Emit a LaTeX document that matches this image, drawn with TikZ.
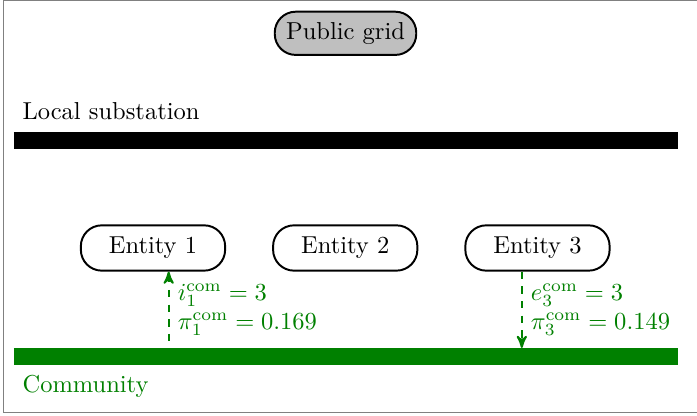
\documentclass[tikz,border=0pt]{standalone}
\usetikzlibrary{arrows,positioning}
\tikzset{entity node/.style={rectangle,rounded corners=3mm,draw,thick,minimum width=2.07cm,minimum height=0.65cm,inner sep=0pt},
         grid node/.style={entity node,fill=black!25,minimum width=2.03cm,minimum height=0.62cm},
         bus/.style={line width=0.24cm},
         flow/.style={dashed,thick,green!50!black},
         flow label/.style={rectangle,align=left,anchor=west,text=green!50!black},
         bus label/.style={anchor=base west}
}
\begin{document}
\begin{tikzpicture}[->,>=stealth']
\useasboundingbox (0,0) rectangle (10,5.968);
\draw[-,gray,line width=0.4pt] (0.043,0.057) rectangle (10.2,5.962);
\node[grid node] (grid) at (4.957,5.49) {Public grid};
% buses
\coordinate (ls west) at (0.2,3.953);
\coordinate (ls east) at (9.72,3.953);
\coordinate (com west) at (0.2,0.856);
\coordinate (com east) at (9.72,0.856);
\coordinate (com top) at (0,0.976);
\draw[-,bus] (ls west) -- (ls east);
\draw[-,bus,green!50!black] (com west) -- (com east);
\node[bus label] (ls label) at (0.2,4.247) {Local substation};
\node[bus label,text=green!50!black] (com label) at (0.2,0.33) {Community};
% entities
\node[entity node] (e1) at (2.195,2.41) {Entity 1};
\node[entity node,right = 0.66cm of e1] (e2) {Entity 2};
\node[entity node,right = 0.66cm of e2] (e3) {Entity 3};
\draw[flow,<-] ([xshift=2.25mm]e1.south) -- ([xshift=2.25mm]e1.south |- com top)
    node[midway,flow label] {$i_1^{\mathrm{com}} = 3$\\$\pi_1^{\mathrm{com}} = 0.169$};
\draw[flow,->] ([xshift=-2.25mm]e3.south) -- ([xshift=-2.25mm]e3.south |- com top)
    node[midway,flow label] {$e_3^{\mathrm{com}} = 3$\\$\pi_3^{\mathrm{com}} = 0.149$};
\end{tikzpicture}
\end{document}
